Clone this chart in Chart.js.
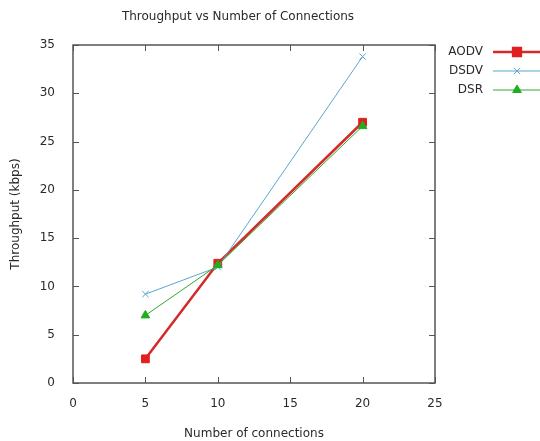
<!DOCTYPE html>
<html>
<head>
<meta charset="utf-8">
<script src="https://cdn.jsdelivr.net/npm/chart.js@4.4.0/dist/chart.umd.min.js"></script>
<style>
  html, body { margin: 0; padding: 0; background: #ffffff; }
  #wrap { width: 540px; height: 441px; }
</style>
</head>
<body>
<div id="wrap"><canvas id="c" width="540" height="441"></canvas></div>
<script>
// Throughput (kbps) measured for each routing protocol at 5, 10 and 20 connections
const connections = [5, 10, 20];
const aodv = [2.5, 12.4, 27.0];
const dsdv = [9.2, 12.0, 33.8];
const dsr  = [7.0, 12.2, 26.6];

const xTickValues = [0, 5, 10, 15, 20, 25];
const yTickValues = [0, 5, 10, 15, 20, 25, 30, 35];

const chartTitle = 'Throughput vs Number of Connections';
const xTitle = 'Number of connections';
const yTitle = 'Throughput (kbps)';

const FONT = '"DejaVu Sans", sans-serif';
const TEXT = '#2a2a2a';
const FRAME = '#555555';

const toPoints = ys => connections.map((x, i) => ({ x, y: ys[i] }));

// gnuplot-style box with inward ticks on all four sides
const framePlugin = {
  id: 'frame',
  beforeDatasetsDraw(chart) {
    const { ctx, chartArea: a, scales: { x, y } } = chart;
    ctx.save();
    ctx.strokeStyle = FRAME;
    ctx.lineWidth = 1.5;
    ctx.strokeRect(a.left, a.top, a.right - a.left, a.bottom - a.top);
    ctx.lineWidth = 1;
    const len = 6;
    ctx.beginPath();
    xTickValues.forEach(v => {
      const px = Math.round(x.getPixelForValue(v)) + 0.5;
      ctx.moveTo(px, a.bottom); ctx.lineTo(px, a.bottom - len);
      ctx.moveTo(px, a.top); ctx.lineTo(px, a.top + len);
    });
    yTickValues.forEach(v => {
      const py = Math.round(y.getPixelForValue(v)) + 0.5;
      ctx.moveTo(a.left, py); ctx.lineTo(a.left + len, py);
      ctx.moveTo(a.right, py); ctx.lineTo(a.right - len, py);
    });
    ctx.stroke();
    ctx.restore();
  }
};

// Title above the plot and key to the right of it
const annotatePlugin = {
  id: 'annotate',
  afterDraw(chart) {
    const { ctx, chartArea: a } = chart;
    ctx.save();
    ctx.fillStyle = TEXT;
    ctx.font = '12px ' + FONT;
    ctx.textAlign = 'center';
    ctx.textBaseline = 'middle';
    ctx.fillText(chartTitle, 238, 17);

    const textRight = a.right + 48;
    const lineStart = a.right + 58;
    const lineEnd = a.right + 110;
    const markX = a.right + 82;
    chart.data.datasets.forEach((ds, i) => {
      const yy = a.top + 7 + i * 19;
      ctx.fillStyle = TEXT;
      ctx.textAlign = 'right';
      ctx.fillText(ds.label, textRight, yy);
      ctx.strokeStyle = ds.borderColor;
      ctx.lineWidth = ds.borderWidth;
      ctx.beginPath();
      ctx.moveTo(lineStart, yy);
      ctx.lineTo(lineEnd, yy);
      ctx.stroke();
      ctx.fillStyle = ds.pointBackgroundColor;
      ctx.strokeStyle = ds.pointBorderColor;
      Chart.helpers.drawPoint(ctx, {
        pointStyle: ds.pointStyle,
        radius: ds.pointRadius,
        rotation: 0,
        borderWidth: ds.pointBorderWidth
      }, markX, yy);
    });
    ctx.restore();
  }
};

new Chart(document.getElementById('c'), {
  type: 'line',
  data: {
    datasets: [
      {
        label: 'AODV',
        data: toPoints(aodv),
        borderColor: '#d42a2a',
        borderWidth: 2.5,
        pointStyle: 'rect',
        pointRadius: 5.5,
        pointBackgroundColor: '#e0201e',
        pointBorderColor: '#e0201e',
        pointBorderWidth: 1,
        order: 2
      },
      {
        label: 'DSDV',
        data: toPoints(dsdv),
        borderColor: '#5aa6cc',
        borderWidth: 1,
        pointStyle: 'crossRot',
        pointRadius: 4.5,
        pointBackgroundColor: '#5aa6cc',
        pointBorderColor: '#5aa6cc',
        pointBorderWidth: 1,
        order: 1
      },
      {
        label: 'DSR',
        data: toPoints(dsr),
        borderColor: '#2ea82e',
        borderWidth: 1,
        pointStyle: 'triangle',
        pointRadius: 5,
        pointBackgroundColor: '#1fae1f',
        pointBorderColor: '#1fae1f',
        pointBorderWidth: 1,
        order: 0
      }
    ]
  },
  options: {
    responsive: false,
    animation: false,
    devicePixelRatio: 1,
    layout: { padding: { top: 45, right: 105, bottom: 0, left: 0 } },
    plugins: {
      legend: { display: false },
      title: { display: false },
      tooltip: { enabled: false }
    },
    elements: { line: { tension: 0, fill: false } },
    scales: {
      x: {
        type: 'linear',
        min: 0,
        max: 25,
        afterBuildTicks: s => { s.ticks = xTickValues.map(v => ({ value: v })); },
        afterFit: s => { s.height = 58; },
        grid: { display: false, drawTicks: false },
        border: { display: false },
        ticks: { padding: 14, color: TEXT, font: { family: FONT, size: 12 }, maxRotation: 0 },
        title: {
          display: true, text: xTitle, color: TEXT,
          font: { family: FONT, size: 12 }, padding: { top: 0, bottom: 0 }
        }
      },
      y: {
        type: 'linear',
        min: 0,
        max: 35,
        afterBuildTicks: s => { s.ticks = yTickValues.map(v => ({ value: v })); },
        afterFit: s => { s.width = 73; },
        grid: { display: false, drawTicks: false },
        border: { display: false },
        ticks: { padding: 18, color: TEXT, font: { family: FONT, size: 12 } },
        title: {
          display: true, text: yTitle, color: TEXT,
          font: { family: FONT, size: 12 }, padding: { top: 9, bottom: 0 }
        }
      }
    }
  },
  plugins: [framePlugin, annotatePlugin]
});
</script>
</body>
</html>
